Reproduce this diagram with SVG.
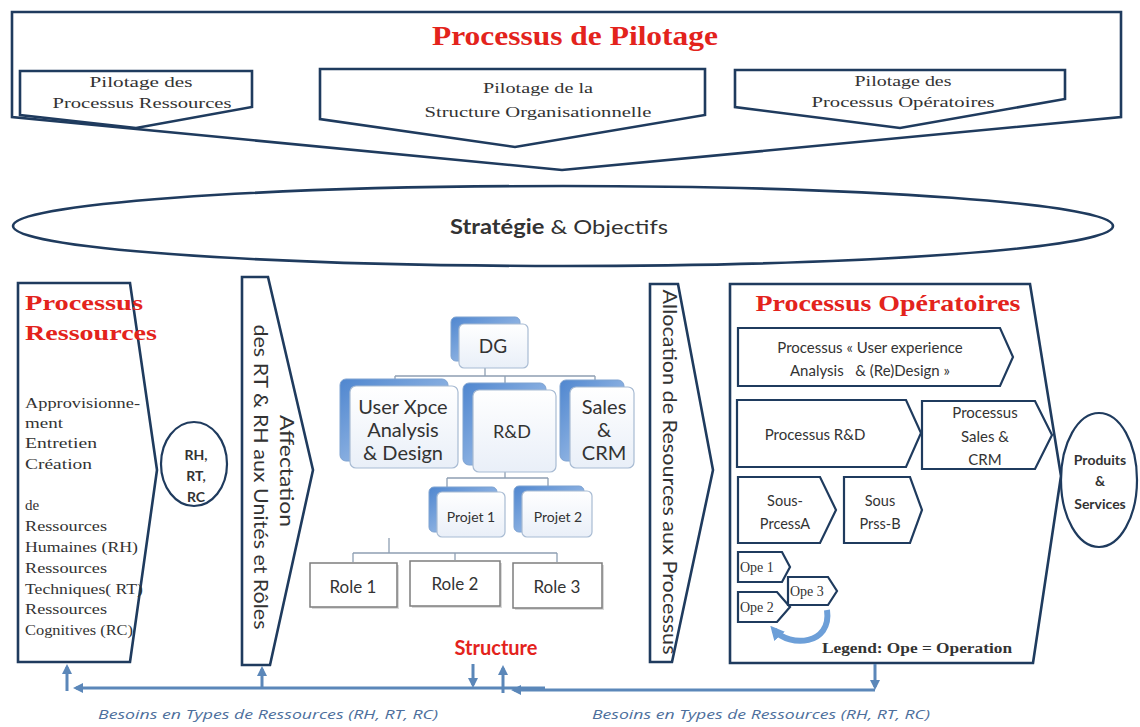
<svg xmlns="http://www.w3.org/2000/svg" width="1140" height="727" viewBox="0 0 1140 727">
<defs>
<style>
.sh{fill:#fff;stroke:#1f3b5e;stroke-width:2.6;stroke-linejoin:miter}
.th{fill:#fff;stroke:#1f3b5e;stroke-width:2.2}
.red{fill:#e3231c;font-family:"Liberation Serif",serif;font-weight:bold}
.ser{fill:#333;font-family:"Liberation Serif",serif}
.san{fill:#333;font-family:Lato,"Liberation Sans",sans-serif}
.bk{fill:url(#bg);stroke:#7fa3d1;stroke-width:1}
.fr{fill:url(#fg);stroke:#a8bbd3;stroke-width:1.2}
.role{fill:#fff;stroke:#7d7d7d;stroke-width:1.5}
.oc{fill:none;stroke:#8e9fb3;stroke-width:1.3}
.ar{fill:none;stroke:#5b87b9;stroke-width:3}
.lbl{fill:#4d6f9c;font-family:"Open Sans","Liberation Sans",sans-serif;font-style:italic;font-size:13.5px}
</style>
<linearGradient id="bg" x1="0" y1="0" x2="1" y2="1">
<stop offset="0" stop-color="#4f86cf"/><stop offset="1" stop-color="#b9d1ef"/>
</linearGradient>
<linearGradient id="fg" x1="0" y1="0" x2="0" y2="1">
<stop offset="0" stop-color="#ffffff"/><stop offset="1" stop-color="#e9eff8"/>
</linearGradient>
<marker id="ah" viewBox="0 0 10 10" refX="7" refY="5" markerWidth="10" markerHeight="10" markerUnits="userSpaceOnUse" orient="auto">
<path d="M0,0 L10,5 L0,10 z" fill="#5b87b9"/>
</marker>
<marker id="ah2" viewBox="0 0 10 10" refX="6" refY="5" markerWidth="14" markerHeight="14" markerUnits="userSpaceOnUse" orient="auto">
<path d="M0,0 L10,5 L0,10 z" fill="#6d9fd8"/>
</marker>
</defs>
<rect width="1140" height="727" fill="#fff"/>

<g id="pilotage">
<polygon class="sh" points="12,12 1121,12 1121,117 562,170 12,117"/>
<text class="red" x="575" y="45" font-size="28" text-anchor="middle" textLength="286" lengthAdjust="spacingAndGlyphs">Processus de Pilotage</text>
</g>
<g id="pil-ressources">
<polygon class="sh" points="20,71 252,71 252,107 136,128 20,115"/>
<text class="ser" x="141" y="87" font-size="15" text-anchor="middle" textLength="103" lengthAdjust="spacingAndGlyphs">Pilotage des</text>
<text class="ser" x="142" y="108" font-size="15" text-anchor="middle" textLength="179" lengthAdjust="spacingAndGlyphs">Processus Ressources</text>
</g>
<g id="pil-structure">
<polygon class="sh" points="320,69 705,69 705,115 515,147 320,119"/>
<text class="ser" x="538" y="93" font-size="15" text-anchor="middle" textLength="110" lengthAdjust="spacingAndGlyphs">Pilotage de la</text>
<text class="ser" x="538" y="117" font-size="15" text-anchor="middle" textLength="227" lengthAdjust="spacingAndGlyphs">Structure Organisationnelle</text>
</g>
<g id="pil-operatoires">
<polygon class="sh" points="735,70 1065,70 1065,99 900,128 735,107"/>
<text class="ser" x="903" y="86" font-size="15" text-anchor="middle" textLength="97" lengthAdjust="spacingAndGlyphs">Pilotage des</text>
<text class="ser" x="903" y="107" font-size="15" text-anchor="middle" textLength="183" lengthAdjust="spacingAndGlyphs">Processus Opératoires</text>
</g>

<g id="strategie">
<ellipse class="sh" cx="563" cy="226" rx="550" ry="40"/>
<text class="san" x="559" y="234" font-size="20" text-anchor="middle" fill="#222" textLength="218" lengthAdjust="spacingAndGlyphs"><tspan font-weight="bold">Stratégie</tspan> &amp; Objectifs</text>
</g>

<g id="processus-ressources">
<polygon class="sh" points="18,283 130,283 157,470 130,662 18,662"/>
<text class="red" x="25" y="310" font-size="22" textLength="118" lengthAdjust="spacingAndGlyphs">Processus</text>
<text class="red" x="25" y="340" font-size="22" textLength="132" lengthAdjust="spacingAndGlyphs">Ressources</text>
<g class="ser" font-size="15">
<text x="25" y="408" textLength="115" lengthAdjust="spacingAndGlyphs">Approvisionne-</text>
<text x="25" y="428" textLength="38" lengthAdjust="spacingAndGlyphs">ment</text>
<text x="25" y="448" textLength="72" lengthAdjust="spacingAndGlyphs">Entretien</text>
<text x="25" y="469" textLength="67" lengthAdjust="spacingAndGlyphs">Création</text>
<text x="25" y="510">de</text>
<text x="25" y="531" textLength="82" lengthAdjust="spacingAndGlyphs">Ressources</text>
<text x="25" y="552" textLength="113" lengthAdjust="spacingAndGlyphs">Humaines (RH)</text>
<text x="25" y="573" textLength="82" lengthAdjust="spacingAndGlyphs">Ressources</text>
<text x="25" y="594" textLength="118" lengthAdjust="spacingAndGlyphs">Techniques( RT)</text>
<text x="25" y="614" textLength="82" lengthAdjust="spacingAndGlyphs">Ressources</text>
<text x="25" y="635" textLength="108" lengthAdjust="spacingAndGlyphs">Cognitives (RC)</text>
</g>
</g>

<g id="rh-rt-rc">
<ellipse class="th" cx="194" cy="464" rx="33" ry="42"/>
<g class="san" font-size="14" font-weight="bold" text-anchor="middle" fill="#222">
<text x="196" y="460">RH,</text>
<text x="196" y="481">RT,</text>
<text x="196" y="502">RC</text>
</g>
</g>

<g id="affectation">
<polygon class="sh" points="242,277 268,277 313,470 270,665 242,665"/>
<text class="san" font-size="19" text-anchor="middle" transform="translate(280,471) rotate(90)" textLength="112" lengthAdjust="spacingAndGlyphs">Affectation</text>
<text class="san" font-size="19" text-anchor="middle" transform="translate(254,477) rotate(90)" textLength="305" lengthAdjust="spacingAndGlyphs">des RT &amp; RH aux Unités et Rôles</text>
</g>

<g id="org-connectors">
<path class="oc" d="M485 368 V376 M395 376 H595 M395 376 V383 M505 376 V386 M595 376 V382"/>
<path class="oc" d="M505 472 V478 M447 478 H548 M447 478 V487 M548 478 V486"/>
<path class="oc" d="M389 538 V553 M353 553 H557 M353 553 V562 M455 553 V560 M557 553 V562"/>
</g>

<g id="dg">
<rect class="bk" x="451" y="317" width="69" height="44" rx="5"/>
<rect class="fr" x="459" y="324" width="69" height="44" rx="5"/>
<text class="san" x="493" y="353" font-size="19" text-anchor="middle">DG</text>
</g>
<g id="user-xpce">
<rect class="bk" x="340" y="379" width="108" height="82" rx="6"/>
<rect class="fr" x="350" y="386" width="108" height="82" rx="6"/>
<g class="san" font-size="20" text-anchor="middle">
<text x="403" y="414">User Xpce</text>
<text x="403" y="437">Analysis</text>
<text x="403" y="460">&amp; Design</text>
</g>
</g>
<g id="rnd">
<rect class="bk" x="463" y="383" width="83" height="82" rx="6"/>
<rect class="fr" x="473" y="390" width="83" height="82" rx="6"/>
<text class="san" x="512" y="438" font-size="18" text-anchor="middle">R&amp;D</text>
</g>
<g id="sales">
<rect class="bk" x="560" y="380" width="64" height="81" rx="6"/>
<rect class="fr" x="570" y="387" width="64" height="81" rx="6"/>
<g class="san" font-size="20" text-anchor="middle">
<text x="604" y="414">Sales</text>
<text x="604" y="437">&amp;</text>
<text x="604" y="460">CRM</text>
</g>
</g>
<g id="projet1">
<rect class="bk" x="429" y="487" width="68" height="45" rx="5"/>
<rect class="fr" x="437" y="492" width="68" height="45" rx="5"/>
<text class="san" x="471" y="522" font-size="14" text-anchor="middle">Projet 1</text>
</g>
<g id="projet2">
<rect class="bk" x="514" y="486" width="70" height="46" rx="5"/>
<rect class="fr" x="522" y="491" width="70" height="46" rx="5"/>
<text class="san" x="558" y="522" font-size="14" text-anchor="middle">Projet 2</text>
</g>
<g id="role1">
<rect x="312" y="565" width="87" height="44" fill="#d9d9d9"/>
<rect class="role" x="310" y="563" width="87" height="44"/>
<text class="san" x="353" y="593" font-size="17" text-anchor="middle">Role 1</text>
</g>
<g id="role2">
<rect x="412" y="563" width="90" height="45" fill="#d9d9d9"/>
<rect class="role" x="410" y="561" width="90" height="45"/>
<text class="san" x="455" y="590" font-size="17" text-anchor="middle">Role 2</text>
</g>
<g id="role3">
<rect x="515" y="565" width="89" height="45" fill="#d9d9d9"/>
<rect class="role" x="513" y="563" width="89" height="45"/>
<text class="san" x="557" y="593" font-size="17" text-anchor="middle">Role 3</text>
</g>

<g id="structure">
<text x="496" y="655" font-size="20" font-weight="bold" text-anchor="middle" fill="#e3231c" font-family="Lato,'Liberation Sans',sans-serif">Structure</text>
</g>

<g id="allocation">
<polygon class="sh" points="650,284 678,284 713,470 672,662 650,662"/>
<text class="san" font-size="19" text-anchor="middle" transform="translate(663,472) rotate(90)" textLength="365" lengthAdjust="spacingAndGlyphs">Allocation de Resources aux Processus</text>
</g>

<g id="processus-operatoires">
<polygon class="sh" points="730,284 1030,284 1061,476 1033,663 730,663"/>
<text class="red" x="888" y="311" font-size="23" text-anchor="middle" textLength="265" lengthAdjust="spacingAndGlyphs">Processus Opératoires</text>
<text x="822" y="653" font-size="15" font-weight="bold" fill="#333" font-family="'Liberation Serif',serif" textLength="190" lengthAdjust="spacingAndGlyphs">Legend:  Ope = Operation</text>
</g>
<g id="p-user">
<polygon class="th" points="738,328 1000,328 1013,357 1000,386 738,386"/>
<text class="san" x="870" y="353" font-size="15" text-anchor="middle">Processus « User experience</text>
<text class="san" x="870" y="376" font-size="15" text-anchor="middle" xml:space="preserve">Analysis   &amp; (Re)Design »</text>
</g>
<g id="p-rnd">
<polygon class="th" points="737,400 906,400 921,433 906,467 737,467"/>
<text class="san" x="815" y="440" font-size="15" text-anchor="middle">Processus R&amp;D</text>
</g>
<g id="p-sales">
<polygon class="th" points="922,401 1035,401 1052,435 1035,469 922,469"/>
<g class="san" font-size="15" text-anchor="middle">
<text x="985" y="418">Processus</text>
<text x="985" y="442">Sales &amp;</text>
<text x="985" y="465">CRM</text>
</g>
</g>
<g id="sous-a">
<polygon class="th" points="738,477 820,477 836,510 820,543 738,543"/>
<text class="san" x="785" y="506" font-size="14.5" text-anchor="middle">Sous-</text>
<text class="san" x="785" y="529" font-size="14.5" text-anchor="middle">PrcessA</text>
</g>
<g id="sous-b">
<polygon class="th" points="844,477 910,477 922,510 910,543 844,543"/>
<text class="san" x="880" y="506" font-size="14.5" text-anchor="middle">Sous</text>
<text class="san" x="880" y="529" font-size="14.5" text-anchor="middle">Prss-B</text>
</g>
<g id="ope1">
<polygon class="th" points="738,552 782,552 790,567 782,582 738,582"/>
<text class="ser" x="740" y="572" font-size="14">Ope 1</text>
</g>
<g id="ope2">
<polygon class="th" points="738,592 777,592 790,607 777,622 738,622"/>
<text class="ser" x="740" y="612" font-size="14">Ope 2</text>
</g>
<g id="ope3">
<polygon class="th" points="788,577 828,577 837,591 828,605 788,605"/>
<text class="ser" x="790" y="596" font-size="14">Ope 3</text>
</g>

<g id="produits">
<ellipse class="th" cx="1099" cy="480" rx="38" ry="67"/>
<g class="san" font-size="14" font-weight="bold" text-anchor="middle" fill="#222">
<text x="1100" y="465">Produits</text>
<text x="1100" y="486">&amp;</text>
<text x="1100" y="509">Services</text>
</g>
</g>

<g id="connectors">
<path d="M827 610 C832 645 790 648 774 630" fill="none" stroke="#6d9fd8" stroke-width="6" marker-end="url(#ah2)"/>
<path class="ar" d="M545 688 H76" marker-end="url(#ah)"/>
<path class="ar" d="M67 691 V667" marker-end="url(#ah)"/>
<path class="ar" d="M262 688 V669" marker-end="url(#ah)"/>
<path class="ar" d="M473 664 V685" marker-end="url(#ah)"/>
<path class="ar" d="M875 690 H514" marker-end="url(#ah)"/>
<path class="ar" d="M503 693 V668" marker-end="url(#ah)"/>
<path class="ar" d="M875 664 V687" marker-end="url(#ah)"/>
</g>
<text class="lbl" x="268" y="719" text-anchor="middle" textLength="340" lengthAdjust="spacingAndGlyphs">Besoins en Types de Ressources (RH, RT, RC)</text>
<text class="lbl" x="761" y="719" text-anchor="middle" textLength="338" lengthAdjust="spacingAndGlyphs">Besoins en Types de Ressources (RH, RT, RC)</text>
</svg>
